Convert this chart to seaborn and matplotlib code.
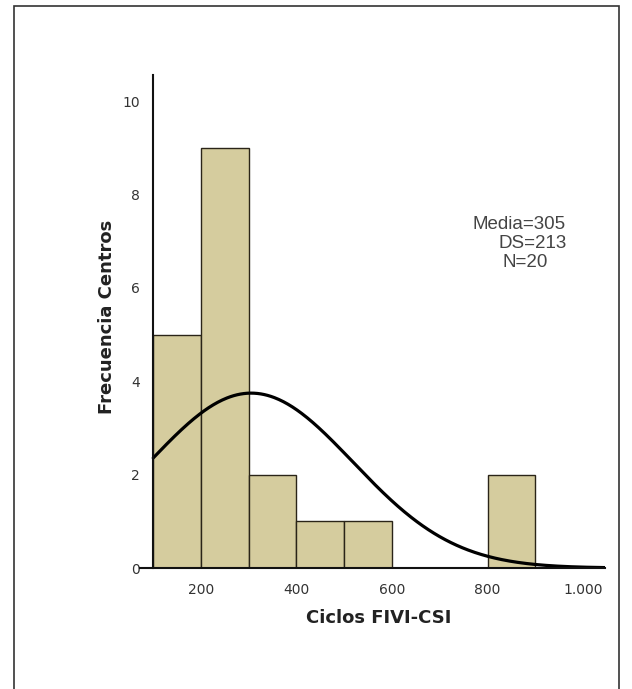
import numpy as np
import pandas as pd
import matplotlib
matplotlib.use("Agg")
import matplotlib.pyplot as plt
import seaborn as sns
from matplotlib.patches import Rectangle

# ---- data ----
bin_edges = [100, 200, 300, 400, 500, 600, 700, 800, 900]
counts = [5, 9, 2, 1, 1, 0, 0, 2]
mean_val = 305
sd_val = 213
n_val = 20
x_ticks = [200, 400, 600, 800, 1000]
x_tick_labels = ["200", "400", "600", "800", "1.000"]
y_ticks = [0, 2, 4, 6, 8, 10]
stats_lines = ["Media=305", "DS=213", "N=20"]

sns.set_theme(style="white")
plt.rcParams["font.family"] = ["DejaVu Sans"]

fig = plt.figure(figsize=(6.32, 6.89), dpi=100)
ax = fig.add_axes([140 / 632, 1 - 568 / 689, 465 / 632, 493 / 689])

mids = [(a + b) / 2 for a, b in zip(bin_edges[:-1], bin_edges[1:])]
df = pd.DataFrame({"x": mids, "w": counts})
sns.histplot(data=df, x="x", weights="w", bins=bin_edges, ax=ax,
             color="#d5cc9e", edgecolor="#2a2418", linewidth=1.0, alpha=1.0)

binw = bin_edges[1] - bin_edges[0]
xs = np.linspace(bin_edges[0], 1046, 400)
ys = n_val * binw / (sd_val * np.sqrt(2 * np.pi)) * np.exp(-0.5 * ((xs - mean_val) / sd_val) ** 2)
sns.lineplot(x=xs, y=ys, ax=ax, color="black", linewidth=2.3)

ax.set_xlim(72.3, 1046)
ax.set_ylim(0, 10.56)
ax.spines["left"].set_position(("data", 100))
for s in ["top", "right"]:
    ax.spines[s].set_visible(False)
for s in ["left", "bottom"]:
    ax.spines[s].set_color("#111111")
    ax.spines[s].set_linewidth(1.5)

ax.set_xticks(x_ticks)
ax.set_xticklabels(x_tick_labels)
ax.set_yticks(y_ticks)
ax.tick_params(axis="both", which="both", direction="out", length=6.5, width=1.0,
               color="#222222", labelsize=10, labelcolor="#333333")
ax.tick_params(axis="x", pad=4)
ax.tick_params(axis="y", pad=3)
ax.grid(False)

ax.set_xlabel("Ciclos FIVI-CSI", fontsize=13, fontweight="bold", color="#222222", va="center")
ax.set_ylabel("Frecuencia Centros", fontsize=13, fontweight="bold", color="#222222", va="center")
ax.xaxis.set_label_coords((378.5 - 140) / 465, (568 - 618) / 493)
ax.yaxis.set_label_coords((107.5 - 140) / 465, (568 - 317) / 493)

# stats text
pos = [(473, 224), (498, 244), (502, 262)]
for (px, py), t in zip(pos, stats_lines):
    fig.text(px / 632, 1 - py / 689, t, fontsize=13.5, family=["Liberation Sans"],
             color="#444444", ha="left", va="center")

# frame
fig.add_artist(Rectangle((14 / 632, -0.05), (619 - 14) / 632, 1.05 - 6 / 689 + 0.0,
                         transform=fig.transFigure, fill=False,
                         edgecolor="#333333", linewidth=1.2))

fig.savefig("out.png", dpi=100)
